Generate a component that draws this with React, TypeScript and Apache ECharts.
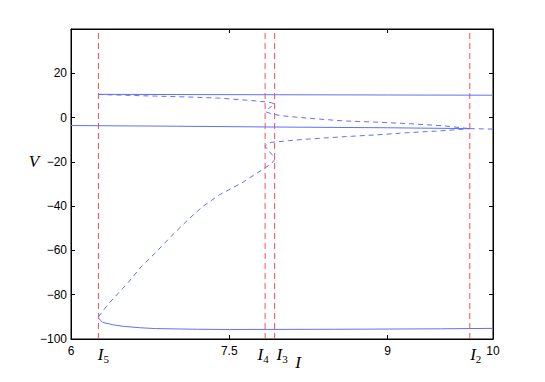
import React, { useEffect, useRef } from 'react';
import * as echarts from 'echarts';

// bifurcation points (red dashed lines)
const bifNames = ['5', '4', '3', '2'];
const bifI = [6.26, 7.84, 7.93, 9.78];
const bifLabelShift = [5, -2, 7.5, 6];

// upper stable branch
const topStableI = [6.26, 7.0, 8.0, 9.0, 10.0];
const topStableV = [10.5, 10.4, 10.3, 10.2, 10.1];

// upper unstable branch (through the folds at I3 and I4, ending at I2)
const topUnstableI = [6.26, 6.5, 6.8, 7.1, 7.4, 7.6, 7.75, 7.84, 7.9, 7.93, 7.9, 7.87, 7.845, 7.85, 7.9, 8.0, 8.25, 8.58, 8.91, 9.22, 9.53, 9.7, 9.78];
const topUnstableV = [10.4, 10.1, 9.7, 9.3, 8.8, 8.1, 7.5, 7.1, 6.7, 6.0, 5.0, 4.0, 3.2, 2.5, 1.7, 0.8, -0.3, -1.5, -2.1, -2.8, -3.7, -4.6, -5.0];

// middle stable branch, unstable after I2
const midStableI = [6.0, 7.0, 8.0, 9.0, 9.78];
const midStableV = [-3.6, -3.9, -4.3, -4.6, -5.0];
const midUnstableI = [9.78, 10.0];
const midUnstableV = [-5.0, -5.2];

// lower unstable branch (from I5 up through the folds to I2)
const lowUnstableI = [6.26, 6.35, 6.54, 6.67, 6.8, 6.95, 7.11, 7.25, 7.41, 7.62, 7.81, 7.9, 7.93, 7.91, 7.87, 7.84, 7.86, 7.9, 8.07, 8.25, 8.6, 8.9, 9.2, 9.5, 9.68, 9.78];
const lowUnstableV = [-90.0, -84.4, -74.6, -67.1, -61.1, -53.6, -46.1, -40.1, -34.8, -29.5, -23.6, -20.8, -19.0, -17.0, -14.8, -13.0, -11.8, -11.2, -10.4, -9.7, -8.6, -7.8, -6.8, -6.0, -5.4, -5.0];

// lower stable branch
const lowStableI = [6.26, 6.3, 6.4, 6.5, 6.65, 6.8, 7.2, 7.5, 8.5, 9.5, 10.0];
const lowStableV = [-90.5, -92.5, -93.6, -94.3, -94.9, -95.3, -95.6, -95.7, -95.6, -95.4, -95.2];

const xMin = 6;
const xMax = 10;
const xInterval = 1.5;
const yMin = -100;
const yMax = 40;
const yInterval = 20;

const BLUE = '#5f6fff';
const RED = '#ff4d4d';

const zip = (xs: number[], ys: number[]) => xs.map((x, i) => [x, ys[i]]);

const fmtNum = (v: number) => String(v).replace('-', '\u2212');

export default function App() {
  const ref = useRef<HTMLDivElement>(null);

  useEffect(() => {
    if (!ref.current) return;
    const chart = echarts.init(ref.current, undefined, { renderer: 'svg' });

    const curve = (name: string, xs: number[], ys: number[], dashed: boolean) => ({
      name,
      type: 'line',
      data: zip(xs, ys),
      showSymbol: false,
      symbol: 'none',
      smooth: false,
      xAxisIndex: 0,
      yAxisIndex: 0,
      lineStyle: { color: BLUE, width: 1, type: dashed ? [5, 4] : 'solid' },
      z: 3,
    });

    const bifSeries = bifI.map((v, i) => ({
      name: 'I' + bifNames[i],
      type: 'line',
      data: [[v, yMin], [v, yMax]],
      showSymbol: false,
      symbol: 'none',
      lineStyle: { color: RED, width: 1, type: [6, 4] },
      z: 2,
    }));

    const axisLabelStyle = {
      color: '#000',
      fontFamily: 'Liberation Sans',
      fontSize: 12,
    };

    const lineCfg = { show: true, onZero: false, lineStyle: { color: '#000', width: 1 } };
    const tickCfg = { show: true, inside: true, length: 4, lineStyle: { color: '#000' } };

    chart.setOption({
      animation: false,
      backgroundColor: '#fff',
      grid: {
        left: 71,
        right: 52,
        top: 29,
        bottom: 43,
        show: true,
        borderColor: '#000',
        borderWidth: 1,
        backgroundColor: 'transparent',
      },
      xAxis: [
        {
          type: 'value',
          position: 'bottom',
          min: xMin,
          max: xMax,
          interval: xInterval,
          axisLine: lineCfg,
          axisTick: tickCfg,
          splitLine: { show: false },
          axisLabel: { ...axisLabelStyle, margin: 6, formatter: (v: number) => fmtNum(v) },
        },
        {
          type: 'value',
          position: 'top',
          min: xMin,
          max: xMax,
          interval: xInterval,
          axisLine: lineCfg,
          axisTick: tickCfg,
          splitLine: { show: false },
          axisLabel: { show: false },
        },
      ],
      yAxis: [
        {
          type: 'value',
          position: 'left',
          min: yMin,
          max: yMax,
          interval: yInterval,
          axisLine: lineCfg,
          axisTick: tickCfg,
          splitLine: { show: false },
          axisLabel: {
            ...axisLabelStyle,
            margin: 4,
            formatter: (v: number) => (v === yMax ? '' : fmtNum(v)),
          },
        },
        {
          type: 'value',
          position: 'right',
          min: yMin,
          max: yMax,
          interval: yInterval,
          axisLine: lineCfg,
          axisTick: tickCfg,
          splitLine: { show: false },
          axisLabel: { show: false },
        },
      ],
      series: [
        ...bifSeries,
        curve('top stable', topStableI, topStableV, false),
        curve('top unstable', topUnstableI, topUnstableV, true),
        curve('middle stable', midStableI, midStableV, false),
        curve('middle unstable', midUnstableI, midUnstableV, true),
        curve('low unstable', lowUnstableI, lowUnstableV, true),
        curve('low stable', lowStableI, lowStableV, false),
      ],
    });

    const serif = 'Liberation Serif';
    const bottomPx = chart.convertToPixel({ yAxisIndex: 0 }, yMin) as number;
    const vLabelPx = chart.convertToPixel({ yAxisIndex: 0 }, -20) as number;
    const leftPx = chart.convertToPixel({ xAxisIndex: 0 }, xMin) as number;
    const rightPx = chart.convertToPixel({ xAxisIndex: 0 }, xMax) as number;

    const bifTexts = bifI.map((v, i) => ({
      type: 'text',
      x: (chart.convertToPixel({ xAxisIndex: 0 }, v) as number) + bifLabelShift[i],
      y: bottomPx + 15,
      style: {
        text: '{a|I}{b|' + bifNames[i] + '}',
        align: 'center',
        verticalAlign: 'middle',
        rich: {
          a: { fontFamily: serif, fontStyle: 'italic', fontSize: 17, fill: '#000' },
          b: { fontFamily: serif, fontSize: 11, fill: '#000', padding: [9, 0, 0, 0] },
        },
      },
    }));

    chart.setOption({
      graphic: [
        ...bifTexts,
        {
          type: 'text',
          x: leftPx + (rightPx - leftPx) * 0.538,
          y: bottomPx + 23,
          style: {
            text: 'I',
            fontFamily: serif,
            fontStyle: 'italic',
            fontSize: 17,
            fill: '#000',
            align: 'center',
            verticalAlign: 'middle',
          },
        },
        {
          type: 'text',
          x: leftPx - 37,
          y: vLabelPx,
          style: {
            text: 'V',
            fontFamily: serif,
            fontStyle: 'italic',
            fontSize: 17,
            fill: '#000',
            align: 'center',
            verticalAlign: 'middle',
          },
        },
      ],
    });

    return () => chart.dispose();
  }, []);

  return (
    <div
      ref={ref}
      style={{ position: 'fixed', left: 0, top: 0, width: 545, height: 382, background: '#fff' }}
    />
  );
}
